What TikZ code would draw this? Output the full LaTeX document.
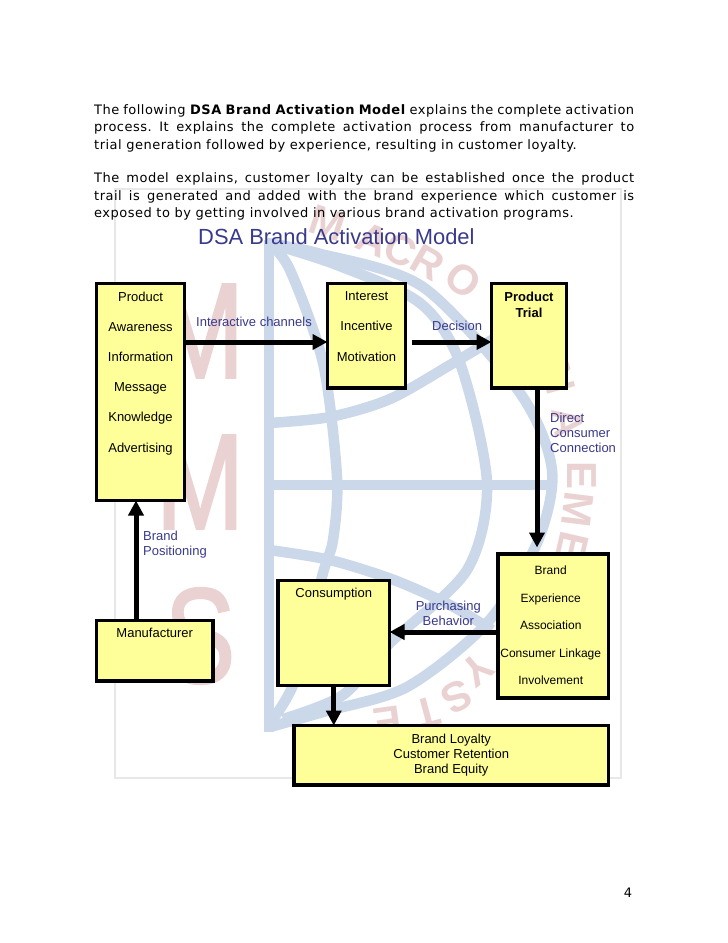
\documentclass[tikz,border=0pt]{standalone}
\usepackage{fontspec}
\setmainfont{Liberation Sans}
\newfontfamily\bodyfont[LetterSpace=3.8]{DejaVu Sans}
\newfontfamily\wmfont[FakeBold=2]{Liberation Sans}
\usetikzlibrary{arrows.meta,positioning}
\definecolor{wmred}{HTML}{EBD2D2}
\definecolor{wmblue}{HTML}{CBD8EA}
\definecolor{wmgray}{HTML}{E8E8E8}
\definecolor{blkyellow}{HTML}{FFFF99}
\definecolor{lnkblue}{HTML}{3A3A8C}
\tikzset{
  blk/.style={draw,rectangle,line width=3.5pt,fill=blkyellow,outer sep=0pt,anchor=north west},
  blktxt/.style={inner sep=0pt,align=center,font=\fontsize{13}{15}\selectfont},
  lnk/.style={inner sep=0pt,align=left,text=lnkblue,font=\fontsize{13}{15}\selectfont},
  arr/.style={-{Triangle[length=15pt,width=15pt]},line width=5pt},
  band/.style={wmblue,line width=10.5pt},
  bigletter/.style={inner sep=0pt,text=wmred,xscale=0.78,font=\wmfont\fontsize{135}{135}\selectfont},
  smallletter/.style={inner sep=0pt,text=wmred,font=\bfseries\fontsize{42}{42}\selectfont},
  para/.style={inner sep=0pt,anchor=north west,align=left,font=\bodyfont\frenchspacing\fontsize{13}{17.5}\selectfont}
}
\newcommand{\jline}[1]{\makebox[540pt][s]{#1}}

\begin{document}
\begin{tikzpicture}[x=1pt,y=-1pt]
  \useasboundingbox (0,0) rectangle (728,943);
  \fill[white] (0,0) rectangle (728,943);

  \draw[wmgray,line width=2pt] (115,189) rectangle (621,778);
  \draw[band] (269,240) -- (269,732);
  \draw[band] plot[smooth] coordinates {(266,243) (317,253) (423,287) (520,393) (552,470) (537,543) (487,623) (407,687) (323,712) (270,727)};
  \draw[band] plot[smooth] coordinates {(268,243) (337,265) (420,303) (460,363) (487,483) (467,570) (390,643) (343,695) (283,719)};
  \draw[band] plot[smooth] coordinates {(269,243) (290,270) (323,363) (337,477) (333,540) (323,573) (295,680) (272,720)};
  \draw[band] (269,485) -- (548,485);
  \draw[band] plot[smooth] coordinates {(269,423) (330,417) (390,399) (450,365) (505,332)};
  \draw[band] plot[smooth] coordinates {(269,550) (330,560) (394,580) (450,605) (492,630)};

  \node[bigletter] (wmm) at (200,331) {M};
  \node[bigletter] (wmn) at (200,482) {M};
  \node[bigletter] (wms) at (200,636) {S};
  \foreach \ch/\px/\py/\rot [count=\i] in {M/328/223/-18,A/373/240/-22,C/400/250/-26,R/428/263/-30,O/463/280/-38,%
    N/558/378/-75,A/568/423/-82,E/582/475/-90,M/578/510/-97,E/572/546/-103,%
    Y/477/670/-140,S/457/697/-152,T/427/713/-165,E/388/722/-172}
    \node[smallletter,rotate=\rot] (wml\i) at (\px,\py) {\ch};

  \node[para] (intro) at (94,104) {\jline{The following \textbf{DSA Brand Activation Model} explains the complete activation}\\
    \jline{process. It explains the complete activation process from manufacturer to}\\
    trial generation followed by experience, resulting in customer loyalty.};
  \node[para,below=20.5pt of intro.south west,anchor=north west] (outro) {\jline{The model explains, customer loyalty can be established once the product}\\
    \jline{trail is generated and added with the brand experience which customer is}\\
    exposed to by getting involved in various brand activation programs.};
  \node[inner sep=0pt,anchor=west,text=lnkblue,font=\fontsize{21.9}{26}\selectfont] (title) at (198,237) {DSA Brand Activation Model};

  \node[blk,minimum width=88pt,minimum height=217pt] (product) at (96.5,283.5) {};
  \node[blk,minimum width=78pt,minimum height=104.5pt,below right=0pt and 143pt of product.north east] (interest) {};
  \node[blk,minimum width=75pt,minimum height=104.5pt,below right=0pt and 86pt of interest.north east] (trial) {};
  \node[blk,minimum width=116.5pt,minimum height=60.5pt,below right=120pt and 0pt of product.south west] (manufacturer) {};
  \node[blk,minimum width=110.5pt,minimum height=144pt] (brand) at (498,554) {};
  \node[blk,minimum width=111.5pt,minimum height=105pt] (consumption) at (278,580.5) {};
  \node[blk,minimum width=314.5pt,minimum height=59.5pt,below left=27.5pt and 0pt of brand.south east,anchor=north east] (loyalty) {};

  \node[blktxt,below=8pt of product.north] (producttxt) {Product\\[15.2pt]Awareness\\[15.2pt]Information\\[15.2pt]Message\\[15.2pt]Knowledge\\[15.2pt]Advertising};
  \node[blktxt,below=8pt of interest.north] (interesttxt) {Interest\\[15.2pt]Incentive\\[15.2pt]Motivation};
  \node[blktxt,below=8pt of trial.north,font=\fontsize{13}{16}\selectfont\bfseries] (trialtxt) {Product\\Trial};
  \node[blktxt,below=7.5pt of manufacturer.north] (manufacturertxt) {Manufacturer};
  \node[blktxt,below=7pt of consumption.north] (consumptiontxt) {Consumption};
  \node[blktxt,xshift=-2.5pt,below=12pt of brand.north,font=\fontsize{12}{14}\selectfont] (brandtxt) {Brand\\[13.4pt]Experience\\[13.4pt]Association\\[13.4pt]Consumer Linkage\\[13.4pt]Involvement};
  \node[blktxt] (loyaltytxt) at (loyalty.center) {Brand Loyalty\\Customer Retention\\Brand Equity};

  \draw[arr] ([yshift=-6.25pt]interest.west -| product.east) -- ([yshift=-6.25pt]interest.west);
  \coordinate[right=6.5pt of interest.east,yshift=-6.25pt] (decisionstart);
  \draw[arr] (decisionstart) -- (decisionstart -| trial.west);
  \draw[arr,shorten >=6.5pt] ([xshift=8pt]trial.south) -- ([xshift=8pt]trial.south |- brand.north);
  \draw[arr] ([xshift=-18.75pt]manufacturer.north) -- ([xshift=-18.75pt]manufacturer.north |- product.south);
  \draw[arr] ([yshift=-6pt]brand.west) -- ([yshift=-6pt]brand.west -| consumption.east);
  \draw[arr] (consumption.south) -- (consumption.south |- loyalty.north);

  \node[lnk,below right=33pt and 11.5pt of product.north east] (channels) {Interactive channels};
  \node[lnk,below right=37.5pt and 26.5pt of interest.north east] (decision) {Decision};
  \node[lnk,below right=24.5pt and 21pt of trial.south] (direct) {Direct\\Consumer\\Connection};
  \node[lnk,below right=30pt and 46.5pt of product.south west] (positioning) {Brand\\Positioning};
  \node[lnk,align=center,below left=47pt and 17pt of brand.north west] (purchasing) {Purchasing\\Behavior};

  \node[inner sep=0pt,font=\bodyfont\fontsize{13}{15}\selectfont] (pagenum) at (628,893) {4};
\end{tikzpicture}
\end{document}
